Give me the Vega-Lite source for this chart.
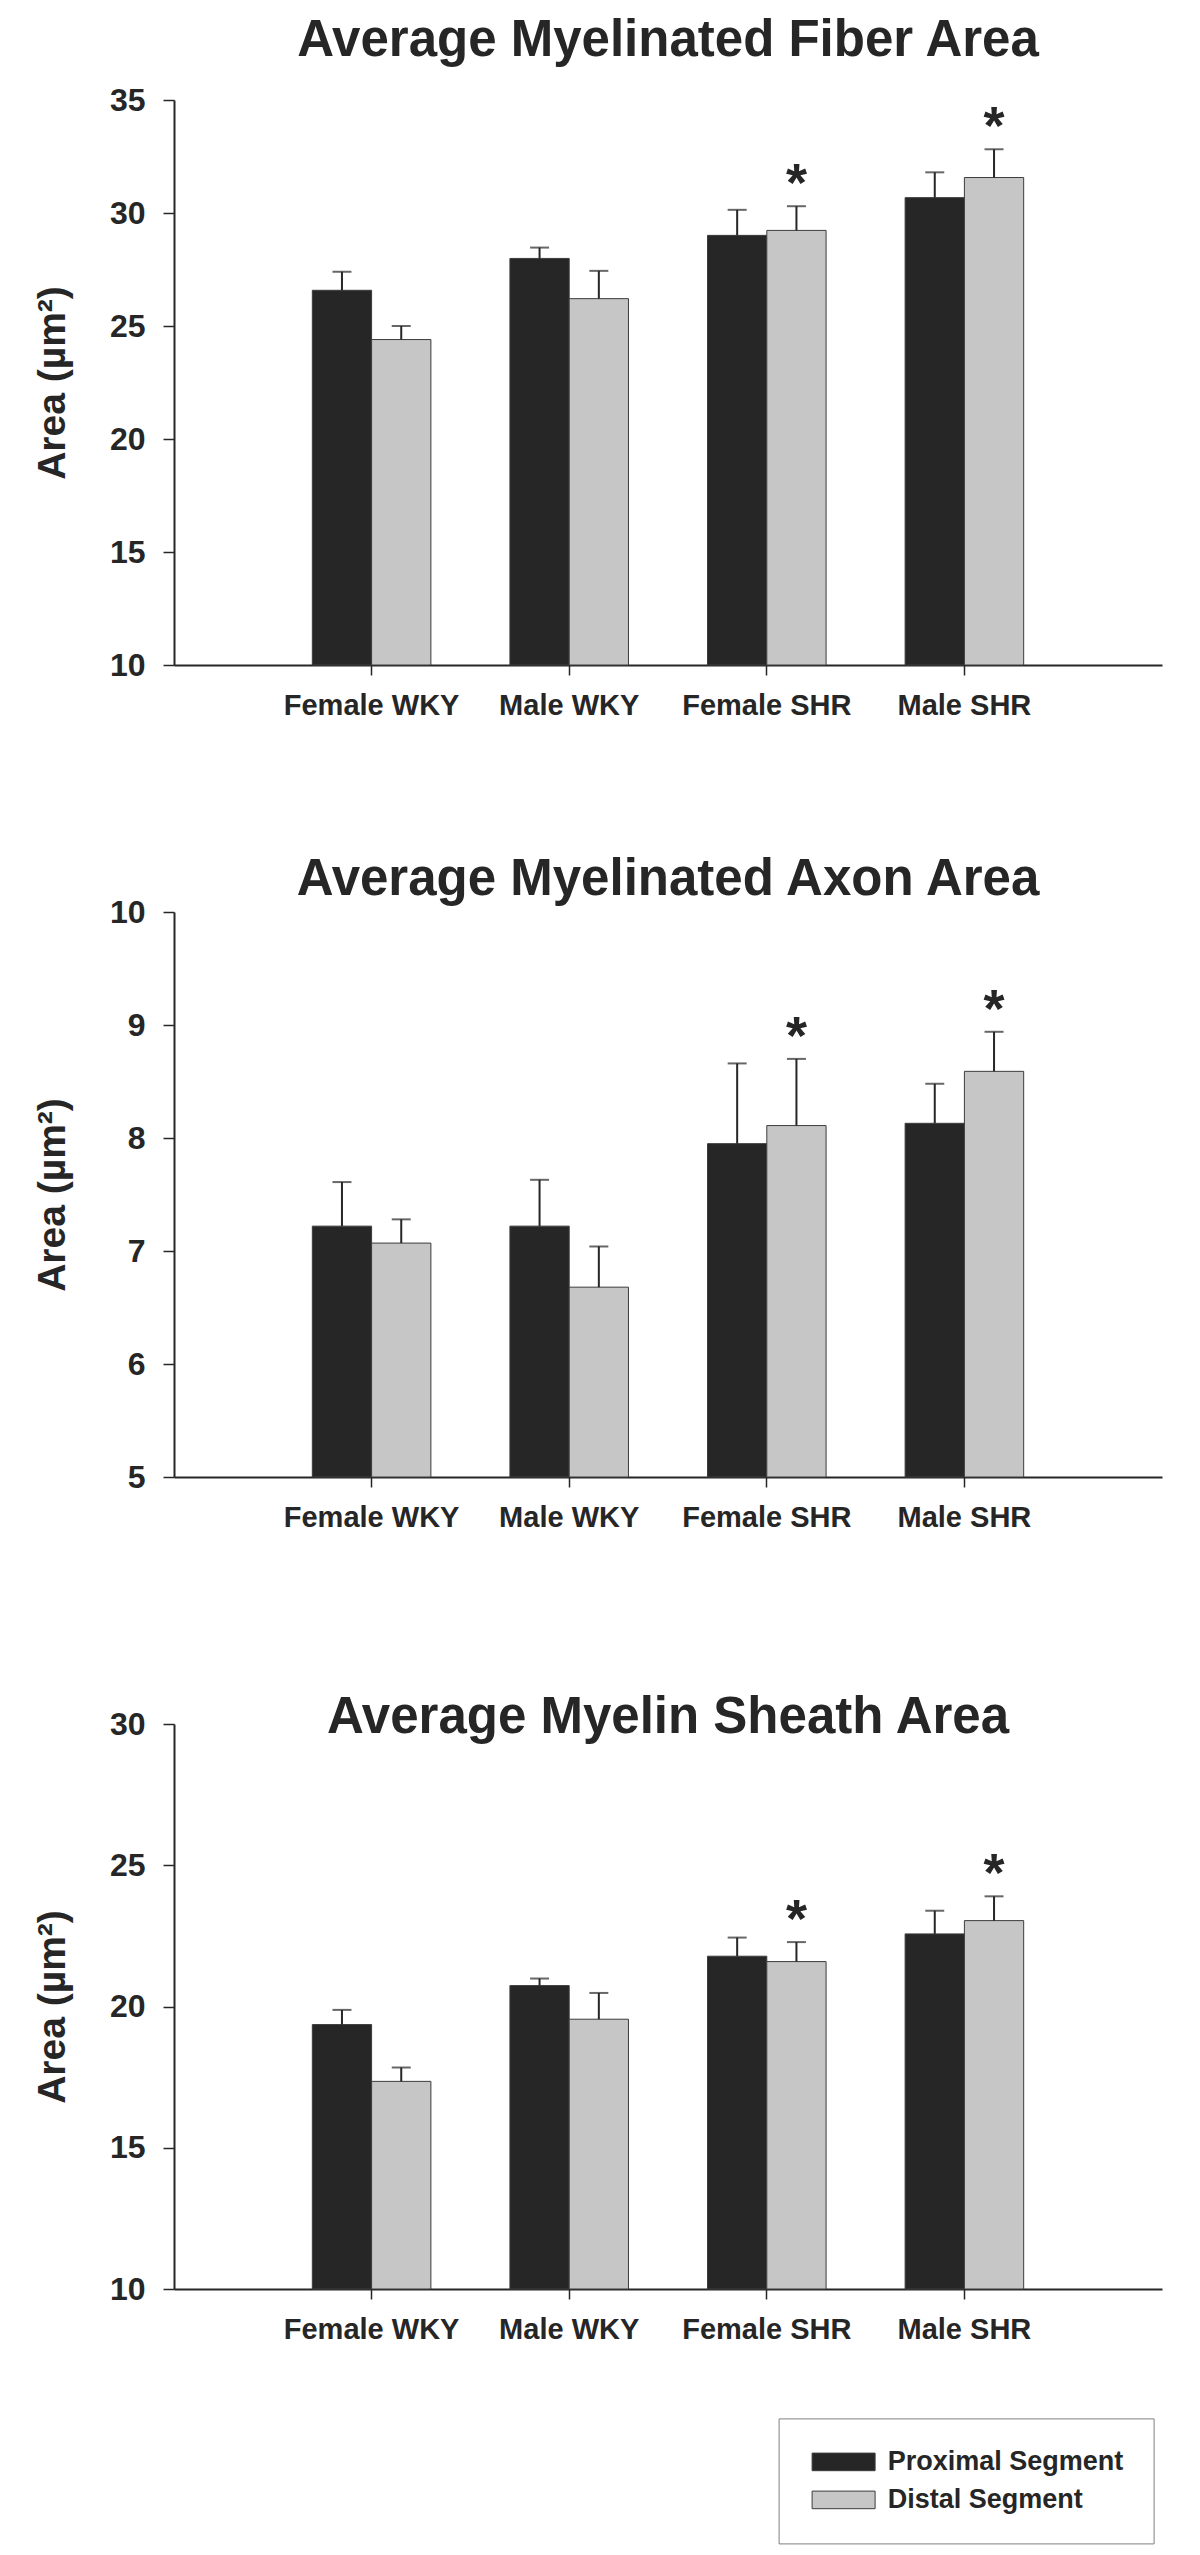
{
  "$schema": "https://vega.github.io/schema/vega-lite/v6.json",
  "background": "white",
  "padding": {"left": 33, "top": 15, "right": 5, "bottom": 5},
  "datasets": {
    "bars": [
      {"chart": "fiber", "group": "Female WKY", "segment": "Proximal Segment", "mean": 26.58, "upper": 27.40, "sig": ""},
      {"chart": "fiber", "group": "Female WKY", "segment": "Distal Segment", "mean": 24.40, "upper": 25.00, "sig": ""},
      {"chart": "fiber", "group": "Male WKY", "segment": "Proximal Segment", "mean": 27.99, "upper": 28.47, "sig": ""},
      {"chart": "fiber", "group": "Male WKY", "segment": "Distal Segment", "mean": 26.21, "upper": 27.44, "sig": ""},
      {"chart": "fiber", "group": "Female SHR", "segment": "Proximal Segment", "mean": 29.01, "upper": 30.14, "sig": ""},
      {"chart": "fiber", "group": "Female SHR", "segment": "Distal Segment", "mean": 29.23, "upper": 30.30, "sig": "*"},
      {"chart": "fiber", "group": "Male SHR", "segment": "Proximal Segment", "mean": 30.68, "upper": 31.80, "sig": ""},
      {"chart": "fiber", "group": "Male SHR", "segment": "Distal Segment", "mean": 31.57, "upper": 32.82, "sig": "*"},
      {"chart": "axon", "group": "Female WKY", "segment": "Proximal Segment", "mean": 7.22, "upper": 7.61, "sig": ""},
      {"chart": "axon", "group": "Female WKY", "segment": "Distal Segment", "mean": 7.07, "upper": 7.28, "sig": ""},
      {"chart": "axon", "group": "Male WKY", "segment": "Proximal Segment", "mean": 7.22, "upper": 7.63, "sig": ""},
      {"chart": "axon", "group": "Male WKY", "segment": "Distal Segment", "mean": 6.68, "upper": 7.04, "sig": ""},
      {"chart": "axon", "group": "Female SHR", "segment": "Proximal Segment", "mean": 7.95, "upper": 8.66, "sig": ""},
      {"chart": "axon", "group": "Female SHR", "segment": "Distal Segment", "mean": 8.11, "upper": 8.70, "sig": "*"},
      {"chart": "axon", "group": "Male SHR", "segment": "Proximal Segment", "mean": 8.13, "upper": 8.48, "sig": ""},
      {"chart": "axon", "group": "Male SHR", "segment": "Distal Segment", "mean": 8.59, "upper": 8.94, "sig": "*"},
      {"chart": "sheath", "group": "Female WKY", "segment": "Proximal Segment", "mean": 19.36, "upper": 19.88, "sig": ""},
      {"chart": "sheath", "group": "Female WKY", "segment": "Distal Segment", "mean": 17.35, "upper": 17.84, "sig": ""},
      {"chart": "sheath", "group": "Male WKY", "segment": "Proximal Segment", "mean": 20.74, "upper": 20.99, "sig": ""},
      {"chart": "sheath", "group": "Male WKY", "segment": "Distal Segment", "mean": 19.55, "upper": 20.48, "sig": ""},
      {"chart": "sheath", "group": "Female SHR", "segment": "Proximal Segment", "mean": 21.78, "upper": 22.44, "sig": ""},
      {"chart": "sheath", "group": "Female SHR", "segment": "Distal Segment", "mean": 21.59, "upper": 22.28, "sig": "*"},
      {"chart": "sheath", "group": "Male SHR", "segment": "Proximal Segment", "mean": 22.57, "upper": 23.39, "sig": ""},
      {"chart": "sheath", "group": "Male SHR", "segment": "Distal Segment", "mean": 23.04, "upper": 23.90, "sig": "*"}
    ]
  },
  "spacing": 247,
  "bounds": "flush",
  "resolve": {"scale": {"color": "shared"}, "legend": {"color": "shared"}},
  "vconcat": [
    {
      "width": 988, "height": 565,
      "title": {"text": "Average Myelinated Fiber Area", "offset": 17},
      "data": {"name": "bars"},
      "transform": [{"filter": "datum.chart === 'fiber'"}],
      "encoding": {
        "x": {"field": "group", "type": "nominal", "title": null, "sort": ["Female WKY", "Male WKY", "Female SHR", "Male SHR"], "scale": {"paddingInner": 0.4, "paddingOuter": 0.7}},
        "xOffset": {"field": "segment", "type": "nominal", "sort": ["Proximal Segment", "Distal Segment"], "scale": {"paddingInner": 0, "paddingOuter": 0}}
      },
      "layer": [
        {
          "mark": {"type": "bar", "stroke": "#3c3c3c", "strokeWidth": 1},
          "encoding": {
            "y": {"field": "mean", "type": "quantitative", "title": "Area (µm²)", "scale": {"domain": [10, 35], "zero": false, "nice": false}, "axis": {"values": [10, 15, 20, 25, 30, 35], "format": "d"}},
            "y2": {"datum": 10},
            "color": {"field": "segment", "type": "nominal", "scale": {"domain": ["Proximal Segment", "Distal Segment"], "range": ["#262626", "#c6c6c6"]}, "legend": {"orient": "none", "legendX": 604.6, "legendY": 2318.4, "title": null}}
          }
        },
        {
          "mark": {"type": "rule", "strokeWidth": 2, "color": "#262626"},
          "encoding": {"y": {"field": "mean", "type": "quantitative", "title": "Area (µm²)"}, "y2": {"field": "upper"}}
        },
        {
          "mark": {"type": "tick", "size": 19, "thickness": 2, "color": "#262626"},
          "encoding": {"y": {"field": "upper", "type": "quantitative", "title": "Area (µm²)"}}
        },
        {
          "transform": [{"filter": "datum.sig === '*'"}],
          "mark": {"type": "text", "fontSize": 54, "fontWeight": "bold", "color": "#262626", "baseline": "alphabetic", "dy": -5},
          "encoding": {"y": {"field": "upper", "type": "quantitative", "title": "Area (µm²)"}, "text": {"field": "sig"}}
        }
      ]
    },
    {
      "width": 988, "height": 565,
      "title": {"text": "Average Myelinated Axon Area", "offset": -10},
      "data": {"name": "bars"},
      "transform": [{"filter": "datum.chart === 'axon'"}],
      "encoding": {
        "x": {"field": "group", "type": "nominal", "title": null, "sort": ["Female WKY", "Male WKY", "Female SHR", "Male SHR"], "scale": {"paddingInner": 0.4, "paddingOuter": 0.7}},
        "xOffset": {"field": "segment", "type": "nominal", "sort": ["Proximal Segment", "Distal Segment"], "scale": {"paddingInner": 0, "paddingOuter": 0}}
      },
      "layer": [
        {
          "mark": {"type": "bar", "stroke": "#3c3c3c", "strokeWidth": 1},
          "encoding": {
            "y": {"field": "mean", "type": "quantitative", "title": "Area (µm²)", "scale": {"domain": [5, 10], "zero": false, "nice": false}, "axis": {"values": [5, 6, 7, 8, 9, 10], "format": "d"}},
            "y2": {"datum": 5},
            "color": {"field": "segment", "type": "nominal", "scale": {"domain": ["Proximal Segment", "Distal Segment"], "range": ["#262626", "#c6c6c6"]}, "legend": {"orient": "none", "legendX": 604.6, "legendY": 2318.4, "title": null}}
          }
        },
        {
          "mark": {"type": "rule", "strokeWidth": 2, "color": "#262626"},
          "encoding": {"y": {"field": "mean", "type": "quantitative", "title": "Area (µm²)"}, "y2": {"field": "upper"}}
        },
        {
          "mark": {"type": "tick", "size": 19, "thickness": 2, "color": "#262626"},
          "encoding": {"y": {"field": "upper", "type": "quantitative", "title": "Area (µm²)"}}
        },
        {
          "transform": [{"filter": "datum.sig === '*'"}],
          "mark": {"type": "text", "fontSize": 54, "fontWeight": "bold", "color": "#262626", "baseline": "alphabetic", "dy": -5},
          "encoding": {"y": {"field": "upper", "type": "quantitative", "title": "Area (µm²)"}, "text": {"field": "sig"}}
        }
      ]
    },
    {
      "width": 988, "height": 565,
      "title": {"text": "Average Myelin Sheath Area", "offset": -36},
      "data": {"name": "bars"},
      "transform": [{"filter": "datum.chart === 'sheath'"}],
      "encoding": {
        "x": {"field": "group", "type": "nominal", "title": null, "sort": ["Female WKY", "Male WKY", "Female SHR", "Male SHR"], "scale": {"paddingInner": 0.4, "paddingOuter": 0.7}},
        "xOffset": {"field": "segment", "type": "nominal", "sort": ["Proximal Segment", "Distal Segment"], "scale": {"paddingInner": 0, "paddingOuter": 0}}
      },
      "layer": [
        {
          "mark": {"type": "bar", "stroke": "#3c3c3c", "strokeWidth": 1},
          "encoding": {
            "y": {"field": "mean", "type": "quantitative", "title": "Area (µm²)", "scale": {"domain": [10, 30], "zero": false, "nice": false}, "axis": {"values": [10, 15, 20, 25, 30], "format": "d"}},
            "y2": {"datum": 10},
            "color": {"field": "segment", "type": "nominal", "scale": {"domain": ["Proximal Segment", "Distal Segment"], "range": ["#262626", "#c6c6c6"]}, "legend": {"orient": "none", "legendX": 604.6, "legendY": 2318.4, "title": null}}
          }
        },
        {
          "mark": {"type": "rule", "strokeWidth": 2, "color": "#262626"},
          "encoding": {"y": {"field": "mean", "type": "quantitative", "title": "Area (µm²)"}, "y2": {"field": "upper"}}
        },
        {
          "mark": {"type": "tick", "size": 19, "thickness": 2, "color": "#262626"},
          "encoding": {"y": {"field": "upper", "type": "quantitative", "title": "Area (µm²)"}}
        },
        {
          "transform": [{"filter": "datum.sig === '*'"}],
          "mark": {"type": "text", "fontSize": 54, "fontWeight": "bold", "color": "#262626", "baseline": "alphabetic", "dy": -5},
          "encoding": {"y": {"field": "upper", "type": "quantitative", "title": "Area (µm²)"}, "text": {"field": "sig"}}
        }
      ]
    }
  ],
  "config": {
    "font": "Liberation Sans",
    "view": {"stroke": null},
    "title": {"fontSize": 51, "fontWeight": "bold", "color": "#262626", "anchor": "middle", "frame": "group", "baseline": "alphabetic"},
    "axis": {"domainColor": "#262626", "domainWidth": 2, "tickColor": "#262626", "tickWidth": 1.5, "labelColor": "#262626", "labelFontWeight": "bold", "titleColor": "#262626", "titleFontWeight": "bold", "grid": false},
    "axisX": {"tickSize": 10, "labelFontSize": 29, "labelPadding": 16, "labelAngle": 0},
    "axisY": {"tickSize": 11, "labelFontSize": 32, "labelPadding": 18, "titleFontSize": 39, "titlePadding": 37},
    "legend": {"symbolType": "M-3.15,-0.88H3.15V0.88H-3.15Z", "symbolSize": 400, "symbolOffset": 21.5, "symbolStrokeColor": "#3c3c3c", "symbolStrokeWidth": 1, "labelFontSize": 27, "labelFontWeight": "bold", "labelColor": "#262626", "labelOffset": 30.6, "labelLimit": 0, "rowPadding": 10, "padding": 30, "strokeColor": "#808080", "fillColor": "white"}
  }
}
